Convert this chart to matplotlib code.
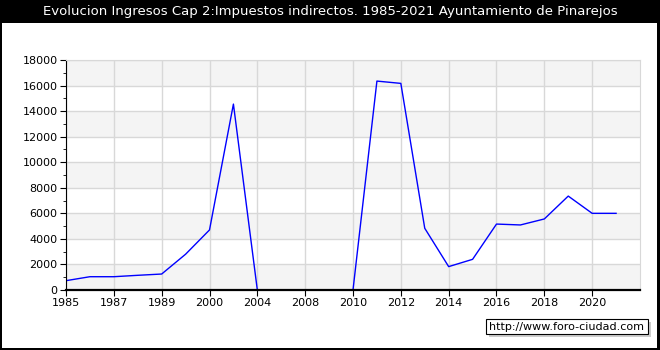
import matplotlib.pyplot as plt
from matplotlib.patches import Rectangle
from matplotlib.ticker import MultipleLocator

# Data (categorical x axis, labels on every other year)
years = ['1985', '1986', '1987', '1988', '1989', '1995', '2000', '2002', '2004', '2006',
         '2008', '2009', '2010', '2011', '2012', '2013', '2014', '2015', '2016', '2017',
         '2018', '2019', '2020', '2021']
ingresos = [730, 1040, 1040, 1150, 1250, 2800, 4700, 14550, 0, 0,
            0, 0, 0, 16350, 16170, 4830, 1830, 2400, 5160, 5090,
            5560, 7350, 6000, 6000]
yticks = list(range(0, 18001, 2000))

W, H = 660, 350
fig = plt.figure(figsize=(6.6, 3.5), dpi=100, facecolor='black')


def px_rect(x0, y0, x1, y1, **kw):
    # rectangle given in pixel coordinates from the top-left corner
    return Rectangle((x0 / W, 1 - y1 / H), (x1 - x0) / W, (y1 - y0) / H,
                     transform=fig.transFigure, **kw)


# white panel below the black title bar
fig.patches.append(px_rect(2, 23, 657, 348, facecolor='white', edgecolor='none', zorder=-10))
fig.text(0.5, 1 - 11 / H, 'Evolucion Ingresos Cap 2:Impuestos indirectos. 1985-2021 Ayuntamiento de Pinarejos',
         color='white', ha='center', va='center', fontsize=9.5)

ax = fig.add_axes([66 / W, 60 / H, 574 / W, 230 / H])
x = list(range(len(years)))

# alternating horizontal bands
for i in range(0, len(yticks) - 1, 2):
    ax.axhspan(yticks[i], yticks[i + 1], color='#f4f4f4', zorder=0, lw=0)

ax.plot(x, ingresos, color='blue', lw=1, zorder=2)

ax.set_xlim(0, len(years))
ax.set_ylim(0, 18000)
ax.set_xticks(x[::2])
ax.set_xticklabels(years[::2], fontsize=8)
ax.set_yticks(yticks)
ax.set_yticklabels([str(v) for v in yticks], fontsize=8)
ax.yaxis.set_minor_locator(MultipleLocator(1000))
ax.grid(True, color='#d8d8d8', lw=1, zorder=1)
ax.set_axisbelow(True)

for s in ['top', 'right']:
    ax.spines[s].set_color('#d8d8d8')
ax.spines['left'].set_color('black')
ax.spines['bottom'].set_color('black')
ax.spines['bottom'].set_linewidth(1.6)
ax.spines['bottom'].set_zorder(5)
ax.tick_params(axis='both', direction='out', length=4, color='black', pad=2)
ax.tick_params(axis='y', which='minor', length=2)

# watermark box with shadow
fig.patches.append(px_rect(489, 322, 651, 337, facecolor='#cccccc', edgecolor='none', zorder=1))
fig.patches.append(px_rect(486, 319, 648, 334, facecolor='white', edgecolor='black', lw=0.8, zorder=2))
fig.text(567 / W, 1 - 326.5 / H, 'http://www.foro-ciudad.com', ha='center', va='center',
         fontsize=8, color='black', zorder=3)

plt.savefig('out.png', dpi=100, facecolor=fig.get_facecolor())
